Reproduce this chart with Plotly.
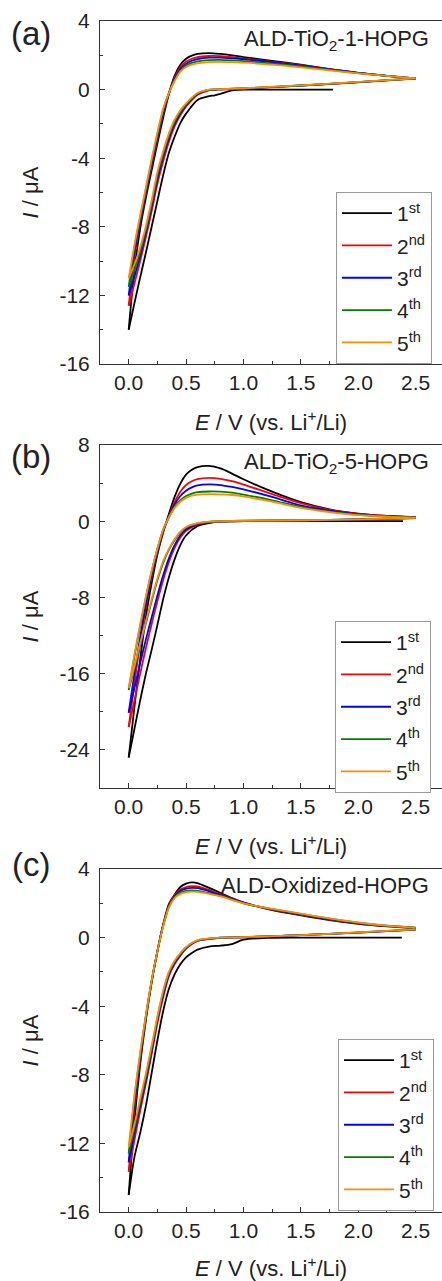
import plotly.graph_objects as go

# ---------------- data ----------------
CYCLES = ["1<sup>st</sup>", "2<sup>nd</sup>", "3<sup>rd</sup>", "4<sup>th</sup>", "5<sup>th</sup>"]
COLORS = ["#000000", "#ff0000", "#0000ff", "#008000", "#ff8c00"]
PANEL_TITLES = ["ALD-TiO<sub>2</sub>-1-HOPG", "ALD-TiO<sub>2</sub>-5-HOPG", "ALD-Oxidized-HOPG"]
PANEL_LABELS = ["(a)", "(b)", "(c)"]
X_TICKS = [0.0, 0.5, 1.0, 1.5, 2.0, 2.5]
Y_TICKS = [[4, 0, -4, -8, -12, -16], [8, 0, -8, -16, -24], [4, 0, -4, -8, -12, -16]]

# potential grids (V vs Li+/Li)
V_AN = [0.0, 0.05, 0.1, 0.15, 0.2, 0.25, 0.3, 0.35, 0.4, 0.45, 0.5, 0.55, 0.6, 0.7, 0.8,
        0.9, 1.0, 1.25, 1.5, 1.75, 2.0, 2.25, 2.5]
V_CAT = [2.5, 2.0, 1.5, 1.0, 0.8, 0.7, 0.6, 0.5, 0.45, 0.4, 0.35, 0.3, 0.25, 0.2, 0.15,
         0.1, 0.05, 0.0]

# ---- panel (a) ALD-TiO2-1-HOPG ----
A_V_CAT1 = [1.78, 1.5, 1.2, 1.0, 0.9, 0.8, 0.75, 0.7, 0.6, 0.5, 0.45, 0.4, 0.35, 0.3, 0.25,
            0.2, 0.15, 0.1, 0.05, 0.0]
A_CAT_1 = [0.0, 0.0, 0.0, 0.0, -0.05, -0.25, -0.33, -0.38, -0.6, -1.4, -1.95, -2.75, -3.7,
           -5.0, -6.5, -8.0, -9.5, -10.95, -12.45, -14.0]
A_CAT_2 = [0.64, 0.43, 0.23, 0.06, 0.01, -0.04, -0.3, -1.0, -1.5, -2.15, -3.05, -4.2, -5.5,
           -7.1, -8.6, -10.0, -11.3, -12.6]
A_CAT_3 = [0.65, 0.44, 0.24, 0.07, 0.02, -0.02, -0.26, -0.92, -1.4, -2.0, -2.85, -3.95,
           -5.25, -6.85, -8.35, -9.7, -10.9, -12.0]
A_CAT_4 = [0.65, 0.44, 0.24, 0.07, 0.02, -0.01, -0.23, -0.86, -1.3, -1.88, -2.7, -3.75,
           -5.0, -6.65, -8.15, -9.45, -10.55, -11.5]
A_CAT_5 = [0.66, 0.45, 0.25, 0.08, 0.03, 0.0, -0.2, -0.8, -1.2, -1.75, -2.55, -3.6, -4.8,
           -6.45, -7.95, -9.2, -10.2, -11.0]
A_AN_1 = [-14.0, -10.5, -8.1, -6.3, -4.7, -3.15, -1.65, -0.25, 0.8, 1.45, 1.8, 1.98, 2.08,
          2.13, 2.08, 2.0, 1.9, 1.68, 1.45, 1.2, 0.98, 0.8, 0.62]
A_AN_2 = [-12.6, -9.8, -7.7, -6.0, -4.4, -2.9, -1.4, -0.25, 0.7, 1.3, 1.62, 1.8, 1.9, 1.96,
          1.95, 1.89, 1.82, 1.62, 1.42, 1.2, 0.98, 0.8, 0.64]
A_AN_3 = [-12.0, -9.5, -7.6, -5.9, -4.3, -2.8, -1.3, -0.22, 0.62, 1.2, 1.5, 1.68, 1.78,
          1.86, 1.86, 1.82, 1.77, 1.6, 1.4, 1.18, 0.97, 0.8, 0.65]
A_AN_4 = [-11.5, -9.2, -7.45, -5.8, -4.15, -2.65, -1.2, -0.2, 0.55, 1.1, 1.4, 1.56, 1.65,
          1.72, 1.73, 1.7, 1.66, 1.52, 1.35, 1.15, 0.96, 0.8, 0.65]
A_AN_5 = [-11.0, -9.05, -7.35, -5.7, -4.05, -2.5, -1.12, -0.2, 0.5, 1.05, 1.32, 1.45, 1.53,
          1.6, 1.62, 1.6, 1.57, 1.46, 1.3, 1.12, 0.95, 0.8, 0.66]

# ---- panel (b) ALD-TiO2-5-HOPG ----
B_V_CAT1 = [2.39, 2.0, 1.5, 1.0, 0.8, 0.7, 0.6, 0.5, 0.45, 0.4, 0.35, 0.3, 0.25, 0.2, 0.15,
            0.1, 0.05, 0.0]
B_CAT_1 = [0.0, 0.0, 0.0, 0.0, -0.05, -0.2, -0.5, -1.5, -2.5, -4.0, -5.9, -8.2, -10.9, -13.5,
           -16.0, -18.8, -21.8, -24.8]
B_CAT_2 = [0.33, 0.18, 0.08, 0.03, -0.02, -0.1, -0.35, -1.0, -1.7, -2.8, -4.3, -6.2, -8.4,
           -10.8, -13.3, -16.0, -18.8, -21.6]
B_CAT_3 = [0.34, 0.19, 0.09, 0.04, -0.01, -0.08, -0.3, -0.85, -1.5, -2.5, -3.9, -5.7, -7.8,
           -10.1, -12.4, -14.9, -17.5, -20.1]
B_CAT_4 = [0.35, 0.2, 0.1, 0.05, 0.0, -0.06, -0.22, -0.65, -1.2, -2.0, -3.0, -4.4, -6.2,
           -8.4, -10.7, -13.0, -15.4, -17.7]
B_CAT_5 = [0.35, 0.2, 0.1, 0.05, 0.0, -0.05, -0.2, -0.6, -1.1, -1.9, -2.9, -4.2, -6.0, -8.2,
           -10.5, -12.8, -15.2, -17.5]
B_AN_1 = [-24.8, -19.5, -14.5, -10.0, -6.5, -3.5, -1.2, 0.75, 2.55, 3.95, 4.9, 5.4, 5.68,
          5.8, 5.55, 5.0, 4.4, 3.1, 2.0, 1.25, 0.8, 0.55, 0.42]
B_AN_2 = [-21.6, -17.0, -12.8, -9.0, -5.8, -3.2, -1.1, 0.5, 2.0, 3.1, 3.8, 4.2, 4.42, 4.56,
          4.45, 4.2, 3.85, 2.85, 1.9, 1.2, 0.78, 0.55, 0.42]
B_AN_3 = [-20.1, -16.0, -12.2, -8.7, -5.6, -3.1, -1.0, 0.45, 1.75, 2.65, 3.2, 3.55, 3.75,
          3.86, 3.8, 3.6, 3.35, 2.55, 1.65, 1.1, 0.72, 0.52, 0.4]
B_AN_4 = [-17.7, -14.2, -11.0, -8.0, -5.3, -2.9, -0.9, 0.4, 1.5, 2.2, 2.65, 2.9, 3.05, 3.12,
          3.1, 3.0, 2.8, 2.2, 1.5, 1.0, 0.67, 0.5, 0.38]
B_AN_5 = [-17.5, -14.0, -10.8, -7.9, -5.2, -2.9, -0.9, 0.4, 1.4, 2.05, 2.45, 2.68, 2.8, 2.84,
          2.82, 2.75, 2.6, 2.05, 1.4, 0.95, 0.63, 0.48, 0.38]

# ---- panel (c) ALD-Oxidized-HOPG ----
C_V_CAT1 = [2.38, 2.0, 1.5, 1.2, 1.0, 0.9, 0.8, 0.7, 0.6, 0.55, 0.5, 0.45, 0.4, 0.35, 0.3,
            0.25, 0.2, 0.15, 0.1, 0.05, 0.0]
C_CAT_1 = [0.0, 0.0, 0.0, -0.02, -0.12, -0.38, -0.47, -0.52, -0.7, -0.9, -1.15, -1.55, -2.15,
           -3.0, -4.3, -6.0, -7.9, -9.8, -11.4, -12.8, -15.0]
C_CAT_2 = [0.47, 0.29, 0.14, 0.02, -0.02, -0.08, -0.2, -0.65, -1.05, -1.55, -2.25, -3.5,
           -5.0, -6.8, -8.5, -10.1, -11.8, -13.65]
C_CAT_3 = [0.47, 0.29, 0.14, 0.02, -0.01, -0.07, -0.18, -0.6, -1.0, -1.48, -2.15, -3.35,
           -4.8, -6.6, -8.3, -9.8, -11.4, -13.1]
C_CAT_4 = [0.48, 0.3, 0.15, 0.03, 0.0, -0.06, -0.16, -0.57, -0.95, -1.4, -2.05, -3.2, -4.7,
           -6.45, -8.1, -9.6, -11.1, -12.6]
C_CAT_5 = [0.48, 0.3, 0.15, 0.03, 0.0, -0.05, -0.15, -0.55, -0.9, -1.35, -2.0, -3.1, -4.6,
           -6.3, -7.9, -9.4, -10.9, -12.2]
C_AN_1 = [-15.0, -10.7, -7.4, -4.8, -2.6, -0.8, 0.75, 1.95, 2.5, 2.95, 3.15, 3.22, 3.18, 2.9,
          2.6, 2.3, 2.05, 1.6, 1.3, 1.02, 0.8, 0.65, 0.55]
C_AN_2 = [-13.65, -10.0, -7.1, -4.7, -2.6, -0.8, 0.72, 1.85, 2.45, 2.8, 2.95, 3.0, 2.98, 2.78,
          2.52, 2.27, 2.03, 1.63, 1.33, 1.05, 0.83, 0.67, 0.56]
C_AN_3 = [-13.1, -9.7, -7.0, -4.6, -2.55, -0.8, 0.7, 1.8, 2.4, 2.72, 2.85, 2.9, 2.88, 2.7,
          2.48, 2.25, 2.02, 1.64, 1.35, 1.07, 0.85, 0.68, 0.57]
C_AN_4 = [-12.6, -9.4, -6.8, -4.55, -2.5, -0.8, 0.68, 1.78, 2.35, 2.62, 2.72, 2.75, 2.73, 2.6,
          2.43, 2.22, 2.0, 1.66, 1.38, 1.1, 0.87, 0.69, 0.58]
C_AN_5 = [-12.2, -9.2, -6.7, -4.5, -2.5, -0.8, 0.65, 1.75, 2.3, 2.55, 2.65, 2.68, 2.66, 2.55,
          2.4, 2.2, 2.0, 1.68, 1.4, 1.12, 0.88, 0.7, 0.58]

Y_RANGES = [[-16, 4], [-28, 8], [-16, 4]]
Y_DTICK = [4, 8, 4]

PANELS = [
    (A_V_CAT1, [A_CAT_1, A_CAT_2, A_CAT_3, A_CAT_4, A_CAT_5],
     [A_AN_1, A_AN_2, A_AN_3, A_AN_4, A_AN_5]),
    (B_V_CAT1, [B_CAT_1, B_CAT_2, B_CAT_3, B_CAT_4, B_CAT_5],
     [B_AN_1, B_AN_2, B_AN_3, B_AN_4, B_AN_5]),
    (C_V_CAT1, [C_CAT_1, C_CAT_2, C_CAT_3, C_CAT_4, C_CAT_5],
     [C_AN_1, C_AN_2, C_AN_3, C_AN_4, C_AN_5]),
]

# ---------------- layout geometry (pixels) ----------------
W, H = 442, 1281
FONT = "Liberation Sans, Arial, sans-serif"
TXT = "#222222"
AX = "#333333"
PLOT_LEFT = 100
PLOT_TOPS = [21, 445, 869]
PLOT_BOTS = [364, 788, 1212]
LEGEND_BOX = [(336, 192), (335, 621), (338, 1039)]
LABEL_Y = [33, 457, 864]
TITLE_Y = [40, 463, 885]
XTITLE_Y = [421, 845, 1267]


def py(p):
    return 1 - p / H


fig = go.Figure()
layout = dict(
    width=W, height=H,
    margin=dict(l=0, r=0, t=0, b=0, autoexpand=False),
    paper_bgcolor="white", plot_bgcolor="white",
    font=dict(family=FONT, color=TXT, size=21),
    annotations=[],
)

for k, (v1, cats, ans) in enumerate(PANELS):
    suffix = "" if k == 0 else str(k + 1)
    xa, ya = "x" + suffix, "y" + suffix
    leg = "legend" + suffix
    for i in range(5):
        vc = v1 if i == 0 else V_CAT
        line = dict(color=COLORS[i], width=1.8, shape="spline", smoothing=0.8)
        fig.add_trace(go.Scatter(x=vc, y=cats[i], mode="lines", line=line,
                                 name=CYCLES[i], legendgroup=f"{k}-{i}",
                                 legend=leg, xaxis=xa, yaxis=ya))
        fig.add_trace(go.Scatter(x=V_AN, y=ans[i], mode="lines", line=line,
                                 name=CYCLES[i], legendgroup=f"{k}-{i}",
                                 legend=leg, showlegend=False, xaxis=xa, yaxis=ya))

    dom_y = [py(PLOT_BOTS[k]), py(PLOT_TOPS[k])]
    axis_common = dict(showline=True, linecolor=AX, linewidth=1,
                       ticks="inside", tickcolor=AX, ticklen=5, tickwidth=1,
                       showgrid=False, zeroline=False,
                       tickfont=dict(family=FONT, size=21, color=TXT))
    layout["xaxis" + suffix] = dict(
        domain=[PLOT_LEFT / W, 1], range=[-0.25, 2.73], anchor=ya,
        tickmode="array", tickvals=X_TICKS, ticktext=[f"{t:.1f}" for t in X_TICKS],
        mirror=True, ticklabelstandoff=0,
        minor=dict(ticks="inside", ticklen=3, tickcolor=AX, dtick=0.25, tick0=0),
        **axis_common)
    layout["yaxis" + suffix] = dict(
        domain=dom_y, range=Y_RANGES[k], anchor=xa,
        tickmode="array", tickvals=Y_TICKS[k], ticktext=[str(t) for t in Y_TICKS[k]],
        ticklabelstandoff=5,
        minor=dict(ticks="inside", ticklen=3, tickcolor=AX,
                   dtick=Y_DTICK[k] / 2, tick0=0),
        **axis_common)

    lx, ly = LEGEND_BOX[k]
    layout[leg] = dict(x=lx / W, y=py(ly), xanchor="left", yanchor="top",
                       bordercolor="#999999", borderwidth=1, bgcolor="white",
                       font=dict(family=FONT, size=21, color=TXT),
                       itemwidth=50, tracegroupgap=2)

    layout["annotations"] += [
        dict(text=PANEL_LABELS[k], x=31 / W, y=py(LABEL_Y[k]), xref="paper", yref="paper",
             xanchor="center", yanchor="middle", showarrow=False,
             font=dict(family=FONT, size=33, color=TXT)),
        dict(text=PANEL_TITLES[k], x=431 / W, y=py(TITLE_Y[k]), xref="paper", yref="paper",
             xanchor="right", yanchor="middle", showarrow=False,
             font=dict(family=FONT, size=22, color=TXT)),
        dict(text="<i>I</i> / μA", x=30 / W, y=py((PLOT_TOPS[k] + PLOT_BOTS[k]) / 2),
             xref="paper", yref="paper", xanchor="center", yanchor="middle",
             textangle=-90, showarrow=False,
             font=dict(family=FONT, size=22, color=TXT)),
        dict(text="<i>E</i> / V (vs. Li<sup>+</sup>/Li)", x=271 / W, y=py(XTITLE_Y[k]),
             xref="paper", yref="paper", xanchor="center", yanchor="middle",
             showarrow=False, font=dict(family=FONT, size=22, color=TXT)),
    ]

fig.update_layout(**layout)
fig.write_html("out.html",
               config={"displayModeBar": False},
               post_script="document.body.style.margin='0px';"
                           "document.body.style.overflow='hidden';")
